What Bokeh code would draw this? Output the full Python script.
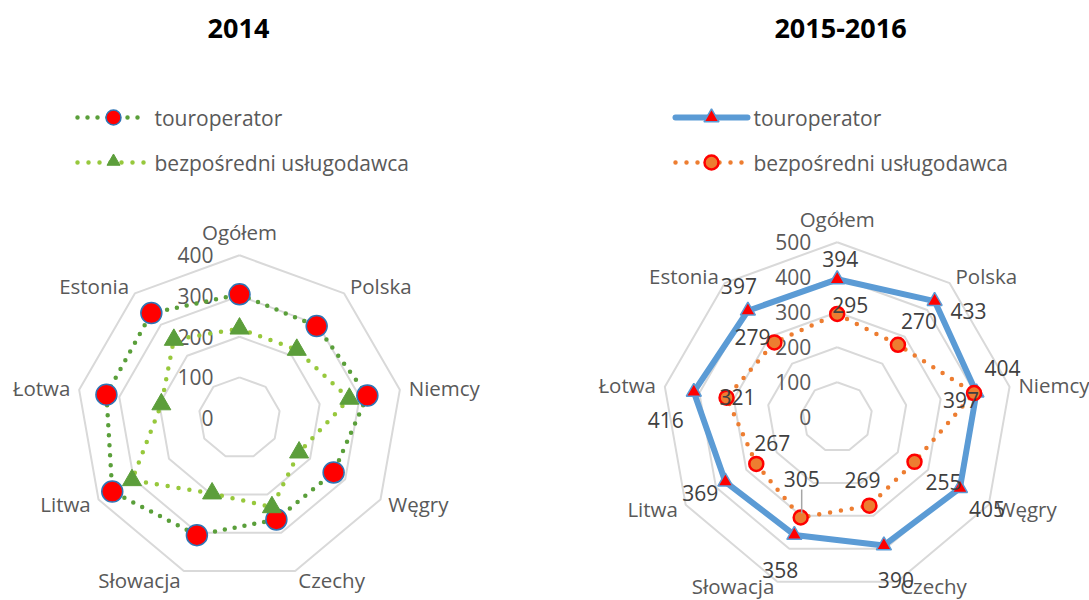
import numpy as np
from bokeh.plotting import figure
from bokeh.models import Range1d
from bokeh.core.properties import value
from bokeh.embed import file_html
from bokeh.resources import INLINE

# ---------------- data ----------------
categories = ["Ogółem", "Polska", "Niemcy", "Węgry", "Czechy",
              "Słowacja", "Litwa", "Łotwa", "Estonia"]
series_names = ["touroperator", "bezpośredni usługodawca"]
titles = ["2014", "2015-2016"]

tour_2014 = [304, 295, 319, 267, 265, 306, 361, 332, 337]
direct_2014 = [220, 219, 274, 169, 233, 197, 305, 195, 251]

tour_2015_16 = [394, 433, 404, 405, 390, 358, 369, 416, 397]
direct_2015_16 = [295, 270, 397, 255, 269, 305, 267, 321, 279]

ticks_2014 = [0, 100, 200, 300, 400]
ticks_2015_16 = [0, 100, 200, 300, 400, 500]

# data-label pixel offsets (style only) for 2015-2016
tour_lbl_dx = [3, 34, 26, 27, 12, -14, -25, -28, -9]
tour_lbl_dy = [-20, 10, -25, 21, 35, 35, 11, 28, -25]
direct_lbl_dx = [13, 21, -13, 29, -7, 1, 16, 11, -22]
direct_lbl_dy = [-9, -24, 7, 20, -26, -39, -21, -1, -5]

# ---------------- styling ----------------
FONT = value("Open Sans")
FS = "21px"
FS_CAT = "20.5px"
GREY_TXT = "#595959"
DARK_TXT = "#404040"
GRID = "#D9D9D9"

W, H = 1089, 600
p = figure(width=W, height=H, output_backend="svg", toolbar_location=None,
           x_range=Range1d(0, W), y_range=Range1d(H, 0),
           x_axis_type=None, y_axis_type=None, min_border=0,
           outline_line_color=None, background_fill_color="white")
p.grid.visible = False

n = len(categories)
ang = np.deg2rad(90 - 360.0 / n * np.arange(n))


def pts(vals, cx, cy, s):
    v = np.asarray(vals, dtype=float)
    return cx + v * s * np.cos(ang), cy - v * s * np.sin(ang)


def closed(a):
    return list(a) + [a[0]]


def radar_frame(cx, cy, s, ticks):
    for t in ticks[1:]:
        x, y = pts([t] * n, cx, cy, s)
        p.line(closed(x), closed(y), line_color=GRID, line_width=2)
    # radial axis labels
    p.text([cx - 26] * len(ticks), [cy - t * s for t in ticks],
           text=[str(t) for t in ticks], text_font=FONT, text_font_size=FS,
           text_color=GREY_TXT, text_align="right", text_baseline="middle")
    # category labels
    R = ticks[-1] * s + 9
    for i, c in enumerate(categories):
        ca, sa = np.cos(ang[i]), np.sin(ang[i])
        x = cx + R * ca
        y = min(cy - R * sa, 585)
        align = "left" if ca > 0.2 else ("right" if ca < -0.2 else "center")
        base = "bottom" if sa > 0.9 else "middle"
        p.text([x], [y], text=[c], text_font=FONT, text_font_size=FS_CAT,
               text_color=GREY_TXT, text_align=align, text_baseline=base)


def legend_text(x, y, label):
    p.text([x], [y], text=[label], text_font=FONT, text_font_size=FS,
           text_color=GREY_TXT, text_align="left", text_baseline="middle")


# ---------------- 2014 ----------------
cxL, cyL, sL = 239, 417.6, 0.407
radar_frame(cxL, cyL, sL, ticks_2014)

DK_GREEN = "#5A9F3A"
LT_GREEN = "#97C83C"
TRI_GREEN = "#5C9E3B"

x, y = pts(tour_2014, cxL, cyL, sL)
p.line(closed(x), closed(y), line_color=DK_GREEN, line_width=4.5,
       line_dash="0 10", line_cap="round")
p.scatter(x, y, marker="circle", size=21, fill_color="#FF0000",
          line_color="#2E75B6", line_width=1.5)

x, y = pts(direct_2014, cxL, cyL, sL)
p.line(closed(x), closed(y), line_color=LT_GREEN, line_width=4.5,
       line_dash="0 11", line_cap="round")
p.scatter(x, y, marker="triangle", size=19, fill_color=TRI_GREEN,
          line_color=TRI_GREEN, line_width=1)

# legend 2014
p.line([77, 146], [117, 117], line_color=DK_GREEN, line_width=4.5,
       line_dash="0 10", line_cap="round")
p.scatter([113], [117], marker="circle", size=15, fill_color="#FF0000",
          line_color="#2E75B6", line_width=1.5)
legend_text(154, 117, series_names[0])
p.line([77, 146], [162, 162], line_color=LT_GREEN, line_width=4.5,
       line_dash="0 11", line_cap="round")
p.scatter([113], [161], marker="triangle", size=13, fill_color=TRI_GREEN,
          line_color=TRI_GREEN, line_width=1)
legend_text(154, 162, series_names[1])

p.text([238], [28], text=[titles[0]], text_font=FONT, text_font_size="27px",
       text_font_style="bold", text_color="black", text_align="center",
       text_baseline="middle")

# ---------------- 2015-2016 ----------------
cxR, cyR, sR = 836.7, 416.7, 0.35
radar_frame(cxR, cyR, sR, ticks_2015_16)

BLUE = "#5B9BD5"
ORANGE = "#ED7D31"

xt, yt = pts(tour_2015_16, cxR, cyR, sR)
p.line(closed(xt), closed(yt), line_color=BLUE, line_width=6, line_join="round")
p.scatter(xt, yt, marker="triangle", size=15, fill_color="#FF0000",
          line_color=BLUE, line_width=1.5)

xd, yd = pts(direct_2015_16, cxR, cyR, sR)
p.line(closed(xd), closed(yd), line_color=ORANGE, line_width=4.5,
       line_dash="0 11", line_cap="round")
p.scatter(xd, yd, marker="circle", size=14, fill_color=ORANGE,
          line_color="#FF0000", line_width=2.5)

# leader line for Słowacja label
i = 5
p.line([xd[i] + 1, xd[i] + 1], [yd[i] + direct_lbl_dy[i] + 11, yd[i] - 4],
       line_color="#A6A6A6", line_width=1.5)

p.text(xt + np.array(tour_lbl_dx), yt + np.array(tour_lbl_dy),
       text=[str(v) for v in tour_2015_16], text_font=FONT,
       text_font_size=FS, text_color=DARK_TXT, text_align="center",
       text_baseline="middle")
p.text(xd + np.array(direct_lbl_dx), yd + np.array(direct_lbl_dy),
       text=[str(v) for v in direct_2015_16], text_font=FONT,
       text_font_size=FS, text_color=DARK_TXT, text_align="center",
       text_baseline="middle")

# legend 2015-2016
p.line([675, 747], [117, 117], line_color=BLUE, line_width=6, line_cap="round")
p.scatter([711], [117], marker="triangle", size=15, fill_color="#FF0000",
          line_color=BLUE, line_width=1.5)
legend_text(753, 117, series_names[0])
p.line([675, 747], [162, 162], line_color=ORANGE, line_width=4.5,
       line_dash="0 11", line_cap="round")
p.scatter([711], [162], marker="circle", size=14, fill_color=ORANGE,
          line_color="#FF0000", line_width=2.5)
legend_text(753, 162, series_names[1])

p.text([840], [28], text=[titles[1]], text_font=FONT, text_font_size="27px",
       text_font_style="bold", text_color="black", text_align="center",
       text_baseline="middle")

open("out.html", "w").write(file_html(p, INLINE))
